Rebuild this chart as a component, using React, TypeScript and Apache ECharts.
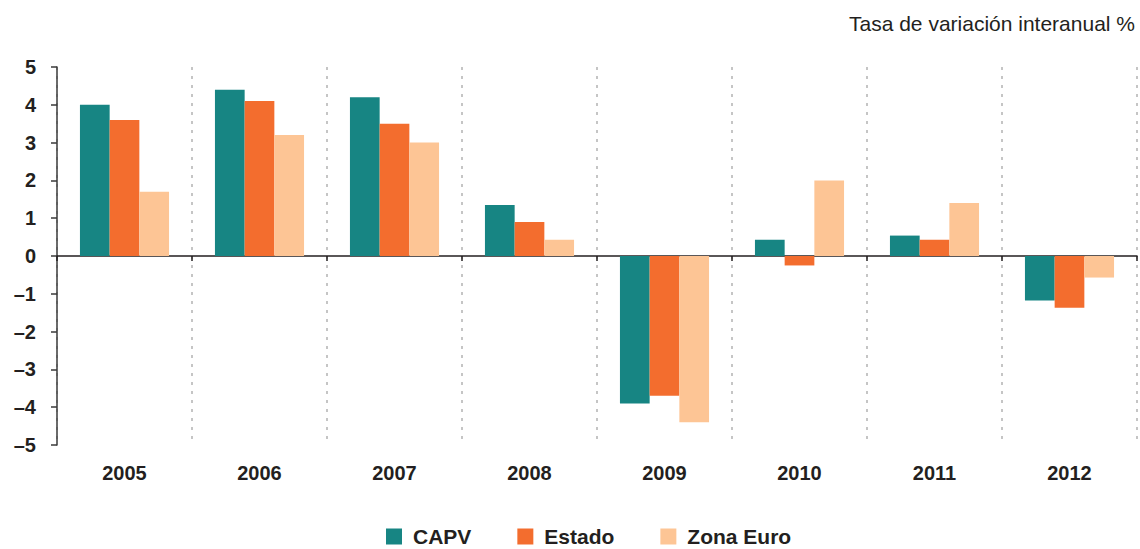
import React, { useEffect, useRef } from "react";
import * as echarts from "echarts";

const years = ["2005", "2006", "2007", "2008", "2009", "2010", "2011", "2012"];
const capv = [4.0, 4.4, 4.2, 1.35, -3.9, 0.43, 0.54, -1.18];
const estado = [3.6, 4.1, 3.5, 0.9, -3.7, -0.25, 0.43, -1.37];
const zonaEuro = [1.7, 3.2, 3.0, 0.43, -4.4, 2.0, 1.4, -0.57];
const seriesNames = ["CAPV", "Estado", "Zona Euro"];
const colors = ["#178583", "#f36d2e", "#fdc595"];
const titleText = "Tasa de variación interanual %";

const FONT = "'Liberation Sans', Arial, Helvetica, sans-serif";
const DARK = "#231f20";

export default function App() {
  const ref = useRef<HTMLDivElement>(null);
  useEffect(() => {
    if (!ref.current) return;
    const chart = echarts.init(ref.current, undefined, { renderer: "svg" });
    const data = [capv, estado, zonaEuro];
    chart.setOption({
      animation: false,
      backgroundColor: "#ffffff",
      title: {
        text: titleText,
        right: 0,
        top: 8,
        textStyle: { fontFamily: FONT, fontSize: 21, fontWeight: "normal", color: DARK },
      },
      legend: {
        data: seriesNames,
        top: 521,
        left: 381,
        itemWidth: 16,
        itemHeight: 16,
        itemGap: 46,
        icon: "rect",
        textStyle: {
          fontFamily: FONT,
          fontSize: 21,
          lineHeight: 18,
          fontWeight: "bold",
          color: DARK,
          padding: [0, 0, 0, 6],
        },
      },
      grid: { left: 57, right: 3, top: 67, bottom: 104, containLabel: false },
      xAxis: [
        {
          type: "category",
          data: years,
          position: "bottom",
          axisLine: { onZero: true, lineStyle: { color: DARK, width: 1.5 } },
          axisTick: { show: true, length: 5, lineStyle: { color: DARK, width: 1.5 } },
          axisLabel: { show: false },
          splitLine: {
            show: true,
            lineStyle: { color: "#b3b3b3", type: [3, 6], width: 1.5 },
          },
        },
        {
          type: "category",
          data: years,
          position: "bottom",
          axisLine: { show: false, onZero: false },
          axisTick: { show: false },
          splitLine: { show: false },
          axisLabel: {
            show: true,
            margin: 18,
            fontFamily: FONT,
            fontSize: 20,
            fontWeight: "bold",
            color: DARK,
          },
        },
      ],
      yAxis: {
        type: "value",
        min: -5,
        max: 5,
        interval: 1,
        axisLine: { show: true, lineStyle: { color: "#3a3a3a", width: 1.5 } },
        axisTick: { show: true, length: 6, lineStyle: { color: "#3a3a3a", width: 1.5 } },
        splitLine: { show: false },
        axisLabel: {
          margin: 21,
          fontFamily: FONT,
          fontSize: 20,
          fontWeight: "bold",
          color: DARK,
          formatter: (v: number) => (v < 0 ? "\u2013" + Math.abs(v) : String(v)),
        },
      },
      series: seriesNames.map((name, i) => ({
        name,
        type: "bar",
        xAxisIndex: 0,
        data: data[i],
        barWidth: 29.7,
        barGap: "0%",
        itemStyle: { color: colors[i] },
      })),
    });
    return () => chart.dispose();
  }, []);
  return (
    <div
      ref={ref}
      style={{ position: "fixed", left: 0, top: 0, width: 1140, height: 549 }}
    />
  );
}
